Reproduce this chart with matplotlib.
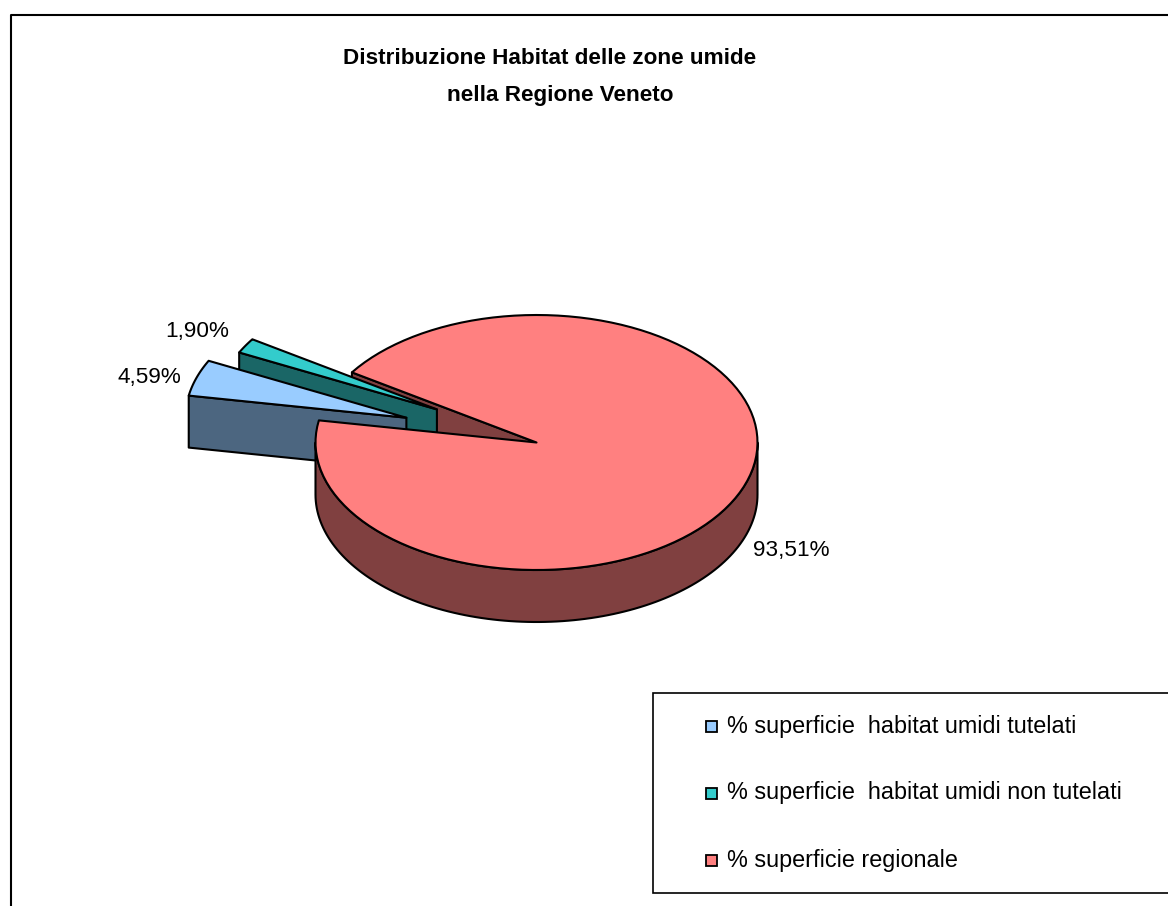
import numpy as np
import matplotlib
matplotlib.use("Agg")
import matplotlib.pyplot as plt
from matplotlib.patches import Polygon, Rectangle
from matplotlib.lines import Line2D

plt.rcParams['font.family'] = ['Liberation Sans', 'DejaVu Sans']

title_lines = ["Distribuzione Habitat delle zone umide", "nella Regione Veneto"]
categories = ["% superficie  habitat umidi tutelati",
              "% superficie  habitat umidi non tutelati",
              "% superficie regionale"]
values = [4.59, 1.90, 93.51]
value_labels = ["4,59%", "1,90%", "93,51%"]
top_colors = ["#99CCFF", "#33CCCC", "#FF8080"]
side_colors = ["#4C6680", "#1A6666", "#804040"]
explode = [0.62, 0.52, 0.0]

W, H = 1168, 906
fig = plt.figure(figsize=(W / 100, H / 100), dpi=100)
ax = fig.add_axes([0, 0, 1, 1])
ax.set_xlim(0, W)
ax.set_ylim(H, 0)
ax.axis('off')

# pie geometry (pixels): centre, radii of the tilted ellipse, thickness
cx, cy, rx, ry, depth = 536.5, 442.5, 221.0, 127.5, 52.0
start = 170.0
edge_kw = dict(edgecolor='black', linewidth=1.5, joinstyle='round')


def pt(t, off, dz=0.0):
    r = np.radians(t)
    return np.column_stack([cx + off[0] + rx * np.cos(r),
                            cy + off[1] - ry * np.sin(r) + dz])


def arc(a, b, off, dz=0.0, n=120):
    return pt(np.linspace(a, b, n), off, dz)


# slice spans, clockwise from the start angle
fracs = np.array(values) / np.sum(values) * 360.0
his = start - np.concatenate([[0], np.cumsum(fracs)[:-1]])
los = his - fracs
offsets = []
for lo, hi, e in zip(los, his, explode):
    mid = np.radians((lo + hi) / 2)
    offsets.append((e * rx * np.cos(mid), -e * ry * np.sin(mid)))


def cut_faces(i):
    lo, hi, off = los[i], his[i], offsets[i]
    apex = np.array([cx + off[0], cy + off[1]])
    for t, normal in ((hi, hi + 90), (lo, lo - 90)):
        if np.sin(np.radians(normal)) < 0:
            o = pt([t], off)[0]
            poly = [apex, o, o + [0, depth], apex + [0, depth]]
            ax.add_patch(Polygon(poly, closed=True, facecolor=side_colors[i], **edge_kw))


def outer_wall(i):
    lo, hi, off = los[i], his[i], offsets[i]
    for k in range(-2, 2):
        a, b = max(lo, 180 + 360 * k), min(hi, 360 + 360 * k)
        if b > a:
            top = arc(a, b, off)
            bot = arc(b, a, off, depth)
            ax.add_patch(Polygon(np.vstack([top, bot]), closed=True,
                                 facecolor=side_colors[i], **edge_kw))


def top_face(i):
    lo, hi, off = los[i], his[i], offsets[i]
    apex = np.array([[cx + off[0], cy + off[1]]])
    ax.add_patch(Polygon(np.vstack([apex, arc(lo, hi, off)]), closed=True,
                         facecolor=top_colors[i], **edge_kw))


flat = [i for i in range(len(values)) if explode[i] == 0]
pulled = sorted([i for i in range(len(values)) if explode[i] > 0],
                key=lambda i: offsets[i][1])

for i in flat:
    cut_faces(i)
for i in pulled:
    cut_faces(i)
    outer_wall(i)
    top_face(i)
for i in flat:
    outer_wall(i)
    top_face(i)

# percentage labels outside each slice
label_shift = [(-15, 0), (-16, -14), (11, 9)]
for i, txt in enumerate(value_labels):
    mid = (los[i] + his[i]) / 2
    p = pt([mid], offsets[i])[0]
    if np.sin(np.radians(mid)) < 0:
        p = p + [0, depth]
    ha = 'right' if np.cos(np.radians(mid)) < 0 else 'left'
    ax.text(p[0] + label_shift[i][0], p[1] + label_shift[i][1], txt,
            ha=ha, va='center', fontsize=16.2)

# title
ax.text(550, 58, title_lines[0], ha='center', va='center', fontsize=16.2, fontweight='bold')
ax.text(560, 96, title_lines[1], ha='center', va='center', fontsize=16.2, fontweight='bold')

# legend box
ax.add_patch(Rectangle((653, 693), 600, 200, facecolor='white',
                       edgecolor='black', linewidth=1.2))
for k, (lab, col) in enumerate(zip(categories, top_colors)):
    y = 726 + k * 67
    ax.add_patch(Rectangle((706, y - 5.5), 11, 11, facecolor=col,
                           edgecolor='black', linewidth=1.3))
    ax.text(727, y, lab, ha='left', va='center', fontsize=16.8)

# chart area frame
ax.add_line(Line2D([11, 11, W], [H, 15, 15], color='black', linewidth=1.5))

fig.savefig("out.png", dpi=100)
